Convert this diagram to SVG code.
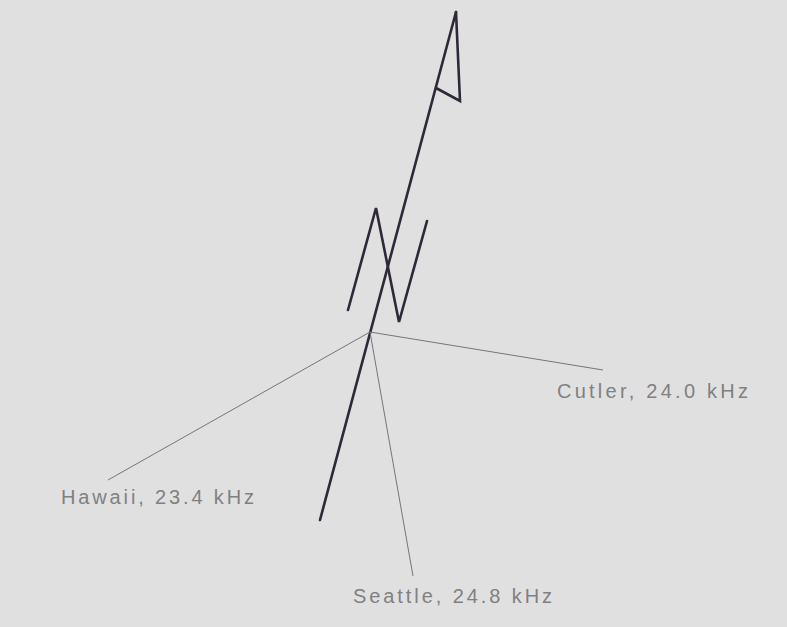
<svg xmlns="http://www.w3.org/2000/svg" width="787" height="627" viewBox="0 0 787 627">
<style>
.bg{fill:#e0e0e0}
.thick{fill:none;stroke:#2e2838;stroke-width:2.6;stroke-linecap:round;stroke-linejoin:miter}
.thin{fill:none;stroke:#77737a;stroke-width:1}
.lbl{font-family:"Liberation Sans",Arial,sans-serif;font-size:20px;fill:#808080}
</style>
<rect class="bg" width="787" height="627"/>
<g id="antenna">
<path class="thick" d="M456,12 L320,520"/>
<path class="thick" d="M456,12 L460,101 L436,88"/>
<path class="thick" d="M348,310 L376,208 L399,322 L427,221"/>
</g>
<g id="connectors">
<path class="thin" d="M370,332 L108,480"/>
<path class="thin" d="M370,332 L603,370"/>
<path class="thin" d="M370,332 L413,576"/>
</g>
<g id="cutler"><text class="lbl" x="557" y="398" textLength="191" lengthAdjust="spacing">Cutler, 24.0 kHz</text></g>
<g id="hawaii"><text class="lbl" x="61" y="504" textLength="193" lengthAdjust="spacing">Hawaii, 23.4 kHz</text></g>
<g id="seattle"><text class="lbl" x="353" y="603" textLength="199" lengthAdjust="spacing">Seattle, 24.8 kHz</text></g>
</svg>
